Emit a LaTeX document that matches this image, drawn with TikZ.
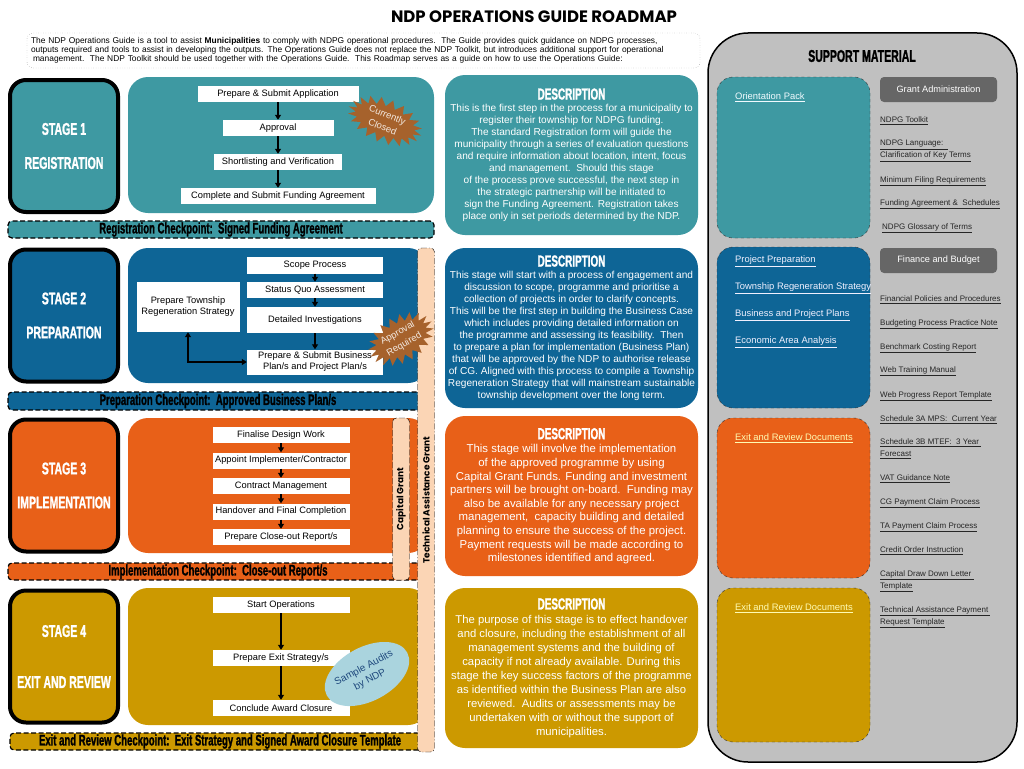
\documentclass[tikz,border=0pt]{standalone}
\usepackage{fontspec}
\setmainfont{Liberation Sans}
\newfontfamily\headfont[FakeStretch=0.62, FakeBold=1.2]{Liberation Sans}
\newfontfamily\gothfont{Poppins}
\usetikzlibrary{positioning, arrows.meta, calc, shapes.symbols, shapes.geometric}

\definecolor{regteal}{RGB}{62,153,162}
\definecolor{prepblue}{RGB}{14,101,150}
\definecolor{implorange}{RGB}{232,96,24}
\definecolor{exitgold}{RGB}{204,153,0}
\definecolor{burstbrown}{RGB}{166,98,44}
\definecolor{grantpeach}{RGB}{251,213,181}
\definecolor{supportgrey}{RGB}{192,192,192}
\definecolor{headgrey}{RGB}{102,102,102}
\definecolor{auditblue}{RGB}{170,212,222}
\definecolor{auditnavy}{RGB}{31,73,125}

\begin{document}
\begin{tikzpicture}[x=1pt, y=-1pt, >={Triangle[length=5pt, width=6pt]},
	stagebox/.style={draw=black, line width=4pt, rounded corners=16pt, minimum width=108pt,
	minimum height=132pt, text=white, align=center, font=\headfont\bfseries\fontsize{17}{34}\selectfont},
	stepbox/.style={fill=white, inner sep=0pt, minimum height=16pt, align=center,
	font=\fontsize{9.3}{11}\selectfont},
	checkbar/.style={draw=black, line width=1.2pt, dash pattern=on 5pt off 2.5pt, rounded corners=4pt,
	minimum width=420pt, minimum height=17pt, inner sep=0pt, font=\headfont\bfseries\fontsize{15.4}{14}\selectfont},
	descbox/.style={rounded corners=20pt, minimum width=253pt, minimum height=160pt, inner sep=0pt,
	align=center, text=white},
	burst/.style={starburst, starburst points=20, starburst point height=8pt, random starburst=0,
	fill=burstbrown, text=white!85!burstbrown, align=center, inner sep=0pt, font=\fontsize{9.5}{13}\selectfont},
	grantstrip/.style={fill=grantpeach, draw=black, rounded corners=4pt, rotate=90, minimum height=17pt,
	inner sep=0pt, font=\gothfont\bfseries\fontsize{9}{9}\selectfont},
	toolbox/.style={draw=black!80, dashed, rounded corners=16pt},
	headtab/.style={fill=headgrey, rounded corners=4pt, minimum width=117pt, minimum height=25pt,
	text=white, font=\fontsize{9.2}{10}\selectfont},
	doclink/.style={anchor=west, inner sep=0pt, align=left, text=black!85, font=\fontsize{8}{12}\selectfont},
	packlink/.style={anchor=west, inner sep=0pt, font=\fontsize{9.4}{11}\selectfont}]
	\useasboundingbox (0,0) rectangle (1024,768);
	
	% Title and introduction
	\node[font=\gothfont\bfseries\fontsize{16.5}{16}\selectfont] (title) at (534,17) {NDP OPERATIONS GUIDE ROADMAP};
	\node[draw=black!55, dotted, rounded corners=6pt, minimum width=673pt, minimum height=35pt,
	text width=665pt, inner sep=4pt, align=left, font=\fontsize{8.4}{9}\selectfont] (intro) at (363.5,50.5)
	{The NDP Operations Guide is a tool to assist \textbf{Municipalities} to comply with NDPG operational procedures.\ \ The Guide provides quick guidance on NDPG processes,\\
	outputs required and tools to assist in developing the outputs. The Operations Guide does not replace the NDP Toolkit, but introduces additional support for operational\\
	\hspace{2pt}management.\ \ The NDP Toolkit should be used together with the Operations Guide.\ \ This Roadmap serves as a guide on how to use the Operations Guide:};
	
	% Stage 1
	\node[stagebox, fill=regteal] (stage1) at (64,146) {STAGE 1\\REGISTRATION};
	\fill[regteal, rounded corners=20pt] (128,77) rectangle (434,213);
	\node[stepbox, minimum width=161pt] (apply) at (278,94) {Prepare \& Submit Application};
	\node[stepbox, minimum width=111pt] (approve) at ($(apply)+(0,34)$) {Approval};
	\node[stepbox, minimum width=128pt] (shortlist) at ($(approve)+(0,34)$) {Shortlisting and Verification};
	\node[stepbox, minimum width=195pt] (fundagree) at ($(shortlist)+(0,34)$) {Complete and Submit Funding Agreement};
	\node[burst, minimum width=78pt, minimum height=44pt, rotate=-22] (closed) at (385,121) {Currently\\Closed};
	\node[checkbar, fill=regteal, minimum width=426pt] (check1) at (221,229.5) {Registration Checkpoint:\ \ Signed Funding Agreement};
	
	\draw[->, line width=1.2pt] (apply) -- (approve);
	\draw[->, line width=1.2pt] (approve) -- (shortlist);
	\draw[->, line width=1.2pt] (shortlist) -- (fundagree);
	
	% Stage 2
	\node[stagebox, fill=prepblue] (stage2) at (64,315.5) {STAGE 2\\PREPARATION};
	\fill[prepblue, rounded corners=20pt] (128,248) rectangle (428,383);
	\node[stepbox, minimum width=136pt, minimum height=17pt] (scope) at (315,265) {Scope Process};
	\node[stepbox, minimum width=136pt] (statusquo) at ($(scope)+(0,25)$) {Status Quo Assessment};
	\node[stepbox, minimum width=136pt, minimum height=26pt] (investigate) at ($(statusquo)+(0,30)$) {Detailed Investigations};
	\node[stepbox, minimum width=136pt, minimum height=25pt] (bizplan) at ($(investigate)+(0,42)$) {Prepare \& Submit Business\\Plan/s and Project Plan/s};
	\node[stepbox, minimum width=103pt, minimum height=50pt] (township) at (188,307) {Prepare Township\\Regeneration Strategy};
	\node[checkbar, fill=prepblue, minimum height=18pt] (check2) at (218,401) {Preparation Checkpoint:\ \ Approved Business Plan/s};
	
	\draw[->, line width=1.2pt] (scope) -- (statusquo);
	\draw[->, line width=1.2pt] (statusquo) -- (investigate);
	\draw[->, line width=1.2pt] (investigate) -- (bizplan);
	\draw[<->, line width=1.2pt] (township.south) |- (bizplan.west);
	
	% Stage 3
	\node[stagebox, fill=implorange] (stage3) at (64,485.5) {STAGE 3\\IMPLEMENTATION};
	\fill[implorange, rounded corners=20pt] (128,418) rectangle (428,553);
	\node[stepbox, minimum width=137pt] (design) at (281,435) {Finalise Design Work};
	\node[stepbox, minimum width=137pt] (appoint) at ($(design)+(0,25.5)$) {Appoint Implementer/Contractor};
	\node[stepbox, minimum width=137pt] (contract) at ($(appoint)+(0,25.5)$) {Contract Management};
	\node[stepbox, minimum width=137pt] (handover) at ($(contract)+(0,25.5)$) {Handover and Final Completion};
	\node[stepbox, minimum width=137pt] (closeout) at ($(handover)+(0,25.5)$) {Prepare Close-out Report/s};
	\node[checkbar, fill=implorange] (check3) at (218,571.5) {Implementation Checkpoint:\ \ Close-out Report/s};
	
	\draw[->, line width=1.2pt] (design) -- (appoint);
	\draw[->, line width=1.2pt] (appoint) -- (contract);
	\draw[->, line width=1.2pt] (contract) -- (handover);
	\draw[->, line width=1.2pt] (handover) -- (closeout);
	
	% Stage 4
	\node[stagebox, fill=exitgold] (stage4) at (64,656.5) {STAGE 4\\[17pt]EXIT AND REVIEW};
	\fill[exitgold, rounded corners=20pt] (128,588) rectangle (428,725);
	\node[stepbox, minimum width=137pt] (startops) at (281,605) {Start Operations};
	\node[stepbox, minimum width=137pt] (exitplan) at ($(startops)+(0,53)$) {Prepare Exit Strategy/s};
	\node[stepbox, minimum width=137pt] (closure) at ($(exitplan)+(0,50)$) {Conclude Award Closure};
	\node[ellipse, fill=auditblue, rotate=28, minimum width=88pt, minimum height=54pt, inner sep=0pt,
	align=center, text=auditnavy, font=\fontsize{10}{13}\selectfont] (audits) at (367,674) {Sample Audits\\by NDP};
	\node[checkbar, fill=exitgold] (check4) at (220,741.5) {Exit and Review Checkpoint:\ \ Exit Strategy and Signed Award Closure Template};
	
	\draw[->, line width=1.2pt] (startops) -- (exitplan);
	\draw[->, line width=1.2pt] (exitplan) -- (closure);
	
	% Grants
	\node[grantstrip, dash pattern=on 6pt off 2pt, minimum width=162pt] (capgrant) at (401,499) {Capital Grant};
	\node[grantstrip, dash pattern=on 6pt off 2pt on 1pt off 2pt, minimum width=504pt] (tagrant) at (426,500) {Technical Assistance Grant};
	\node[burst, minimum width=70pt, minimum height=44pt, rotate=30] (approvalreq) at (401,339) {Approval\\Required};
	
	% Descriptions
	\node[descbox, fill=regteal, font=\fontsize{10.1}{12}\selectfont] (desc1) at (571.5,155)
	{{\headfont\bfseries\fontsize{16}{14}\selectfont DESCRIPTION}\\
	This is the first step in the process for a municipality to\\
	register their township for NDPG funding.\\
	The standard Registration form will guide the\\
	municipality through a series of evaluation questions\\
	and require information about location, intent, focus\\
	and management.\ \ Should this stage\\
	of the process prove successful, the next step in\\
	the strategic partnership will be initiated to\\
	sign the Funding Agreement. Registration takes\\
	place only in set periods determined by the NDP.};
	\node[descbox, fill=prepblue, font=\fontsize{10.1}{12}\selectfont] (desc2) at (571.5,328)
	{{\headfont\bfseries\fontsize{16}{14}\selectfont DESCRIPTION}\\
	This stage will start with a process of engagement and\\
	discussion to scope, programme and prioritise a\\
	collection of projects in order to clarify concepts.\\
	This will be the first step in building the Business Case\\
	which includes providing detailed information on\\
	the programme and assessing its feasibility.\ \ Then\\
	to prepare a plan for implementation (Business Plan)\\
	that will be approved by the NDP to authorise release\\
	of CG. Aligned with this process to compile a Township\\
	Regeneration Strategy that will mainstream sustainable\\
	township development over the long term.};
	\node[descbox, fill=implorange, font=\fontsize{11.4}{13.6}\selectfont] (desc3) at (571.5,496)
	{{\headfont\bfseries\fontsize{16}{14}\selectfont DESCRIPTION}\\
	This stage will involve the implementation\\
	of the approved programme by using\\
	Capital Grant Funds. Funding and investment\\
	partners will be brought on-board.\ \ Funding may\\
	also be available for any necessary project\\
	management,\ \ capacity building and detailed\\
	planning to ensure the success of the project.\\
	Payment requests will be made according to\\
	milestones identified and agreed.};
	\node[descbox, fill=exitgold, font=\fontsize{11.3}{14}\selectfont] (desc4) at (571.5,668)
	{{\headfont\bfseries\fontsize{16}{14}\selectfont DESCRIPTION}\\
	The purpose of this stage is to effect handover\\
	and closure, including the establishment of all\\
	management systems and the building of\\
	capacity if not already available. During this\\
	stage the key success factors of the programme\\
	as identified within the Business Plan are also\\
	reviewed.\ \ Audits or assessments may be\\
	undertaken with or without the support of\\
	municipalities.};
	
	% Support material
	\draw[line width=1.5pt, fill=supportgrey, rounded corners=40pt] (708,33) rectangle (1017,762);
	\node[font=\headfont\bfseries\fontsize{17}{15}\selectfont] (support) at (862,56) {SUPPORT MATERIAL};
	\draw[toolbox, fill=regteal] (717,77) rectangle (870,238);
	\draw[toolbox, fill=prepblue] (717,247) rectangle (870,408);
	\draw[toolbox, fill=implorange] (717,418) rectangle (870,578);
	\draw[toolbox, fill=exitgold] (717,588) rectangle (870,742);
	
	\node[packlink, text=cyan!6] (orient) at (735,97) {\underline{Orientation Pack}};
	\node[packlink, text=blue!6] (projprep) at (735,261) {\underline{Project Preparation}};
	\node[packlink, text=blue!6] (trs) at (735,288) {\underline{Township Regeneration Strategy}};
	\node[packlink, text=blue!6] (bizplans) at (735,315) {\underline{Business and Project Plans}};
	\node[packlink, text=blue!6] (econ) at (735,342) {\underline{Economic Area Analysis}};
	\node[packlink, text=yellow!30] (exitdocs1) at (735,438) {\underline{Exit and Review Documents}};
	\node[packlink, text=yellow!30] (exitdocs2) at (735,608) {\underline{Exit and Review Documents}};
	
	\node[headtab] (grantadmin) at (938.5,89.5) {Grant Administration};
	\node[headtab] (finance) at (938.5,260.5) {Finance and Budget};
	
	\node[doclink] (toolkit) at (880,121) {\underline{NDPG Toolkit}};
	\node[doclink] (language) at (880,151) {\underline{NDPG Language:\ \ }\\\underline{Clarification of Key Terms}};
	\node[doclink] (filing) at (880,181) {\underline{Minimum Filing Requirements}};
	\node[doclink] (fundsched) at (880,204) {\underline{Funding Agreement \&\ \ Schedules}};
	\node[doclink] (glossary) at (882,228) {\underline{NDPG Glossary of Terms}};
	\node[doclink] (policies) at (880,300) {\underline{Financial Policies and Procedures}};
	\node[doclink] (budgeting) at (880,324) {\underline{Budgeting Process Practice Note}};
	\node[doclink] (benchmark) at (880,348) {\underline{Benchmark Costing Report}};
	\node[doclink] (webtrain) at (880,371) {\underline{Web Training Manual}};
	\node[doclink] (webreport) at (880,396) {\underline{Web Progress Report Template}};
	\node[doclink] (sched3a) at (880,420) {\underline{Schedule 3A MPS:\ \ Current Year}};
	\node[doclink] (sched3b) at (880,449) {\underline{Schedule 3B MTEF:\ \ 3 Year\ }\\\underline{Forecast}};
	\node[doclink] (vat) at (880,479) {\underline{VAT Guidance Note}};
	\node[doclink] (cgclaim) at (880,503) {\underline{CG Payment Claim Process}};
	\node[doclink] (taclaim) at (880,527) {\underline{TA Payment Claim Process}};
	\node[doclink] (creditorder) at (880,551) {\underline{Credit Order Instruction}};
	\node[doclink] (drawdown) at (880,581) {\underline{Capital Draw Down Letter\ }\\\underline{Template}};
	\node[doclink] (tarequest) at (880,617) {\underline{Technical Assistance Payment\ }\\\underline{Request Template}};
\end{tikzpicture}
\end{document}
